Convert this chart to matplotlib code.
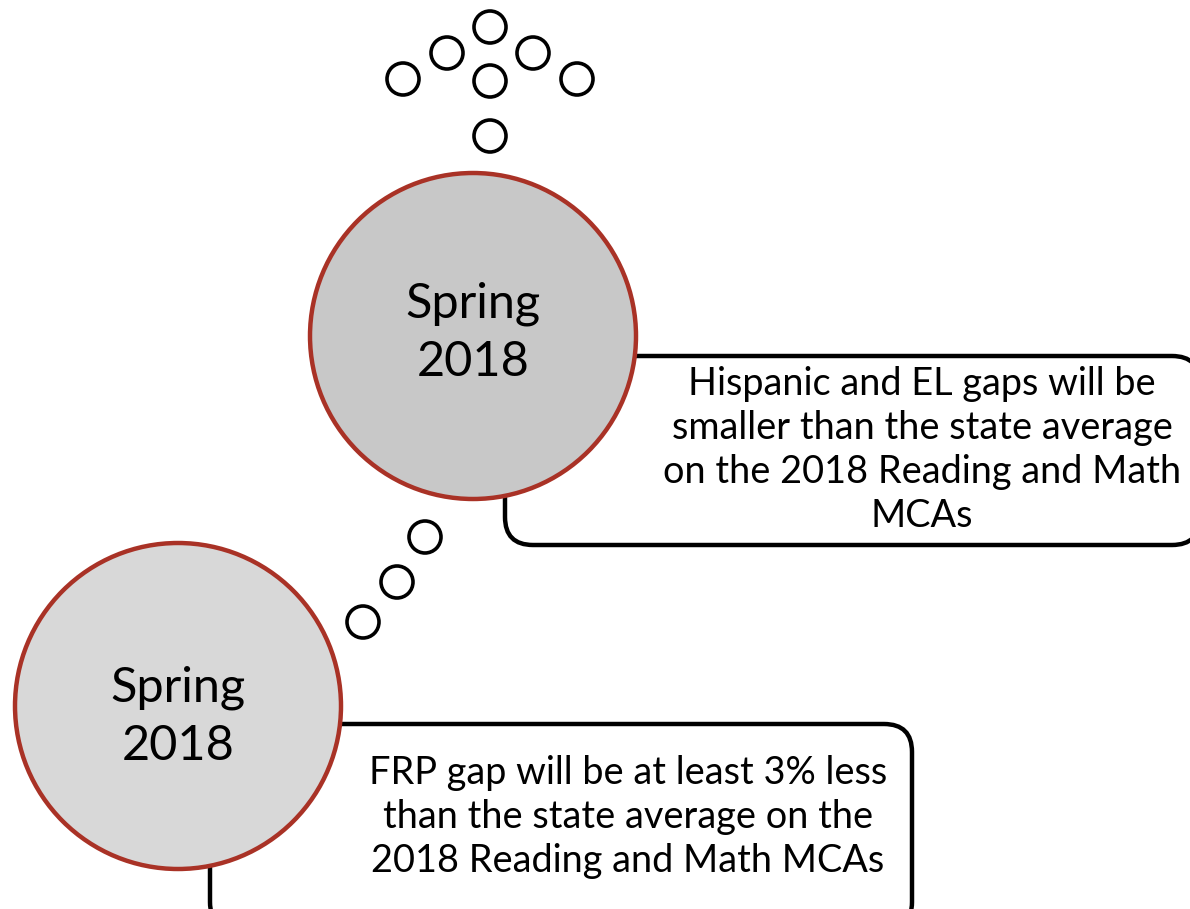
import matplotlib.pyplot as plt
from matplotlib.patches import Circle, FancyBboxPatch

# small "thought bubble" dots (pixel coords, y down)
dots_x = [490, 447, 533, 403, 490, 577, 490, 425, 397, 363]
dots_y = [27, 53, 53, 79, 81, 79, 136, 537, 582, 622]

# big milestone circles
circ_x = [473, 178]
circ_y = [336, 706]
circ_text_y = [333, 717]
circ_fill = ["#c8c8c8", "#d8d8d8"]
circ_labels = ["Spring\n2018", "Spring\n2018"]

# callout boxes: left, top, right, bottom
box_left = [505, 210]
box_top = [356, 724]
box_right = [1200, 912]
box_bottom = [545, 930]
box_text_x = [922, 628]
box_text_y = [450, 817]
box_texts = [
    "Hispanic and EL gaps will be\nsmaller than the state average\non the 2018 Reading and Math\nMCAs",
    "FRP gap will be at least 3% less\nthan the state average on the\n2018 Reading and Math MCAs",
]

plt.rcParams['font.family'] = ['Lato', 'DejaVu Sans']

fig = plt.figure(figsize=(11.9, 9.09), dpi=100)
ax = fig.add_axes([0, 0, 1, 1])
ax.set_xlim(0, 1190)
ax.set_ylim(909, 0)
ax.set_aspect('equal')
ax.axis('off')

for i in range(len(box_left)):
    w = box_right[i] - box_left[i]
    h = box_bottom[i] - box_top[i]
    ax.add_patch(FancyBboxPatch((box_left[i], box_top[i]), w, h,
                                boxstyle="round,pad=0,rounding_size=28",
                                fc="white", ec="black", lw=3.2, zorder=1))
    ax.text(box_text_x[i], box_text_y[i], box_texts[i], ha='center', va='center',
            fontsize=27.3, linespacing=1.27, color='black', zorder=3)

for i in range(len(circ_x)):
    ax.add_patch(Circle((circ_x[i], circ_y[i]), 163, fc=circ_fill[i],
                        ec="#a93226", lw=3.2, zorder=2))
    ax.text(circ_x[i], circ_text_y[i], circ_labels[i], ha='center', va='center',
            fontsize=35, linespacing=1.4, color='black', zorder=3)

for x, y in zip(dots_x, dots_y):
    ax.add_patch(Circle((x, y), 16, fc="white", ec="black", lw=2.6, zorder=2))

fig.savefig("out.png", dpi=100)
